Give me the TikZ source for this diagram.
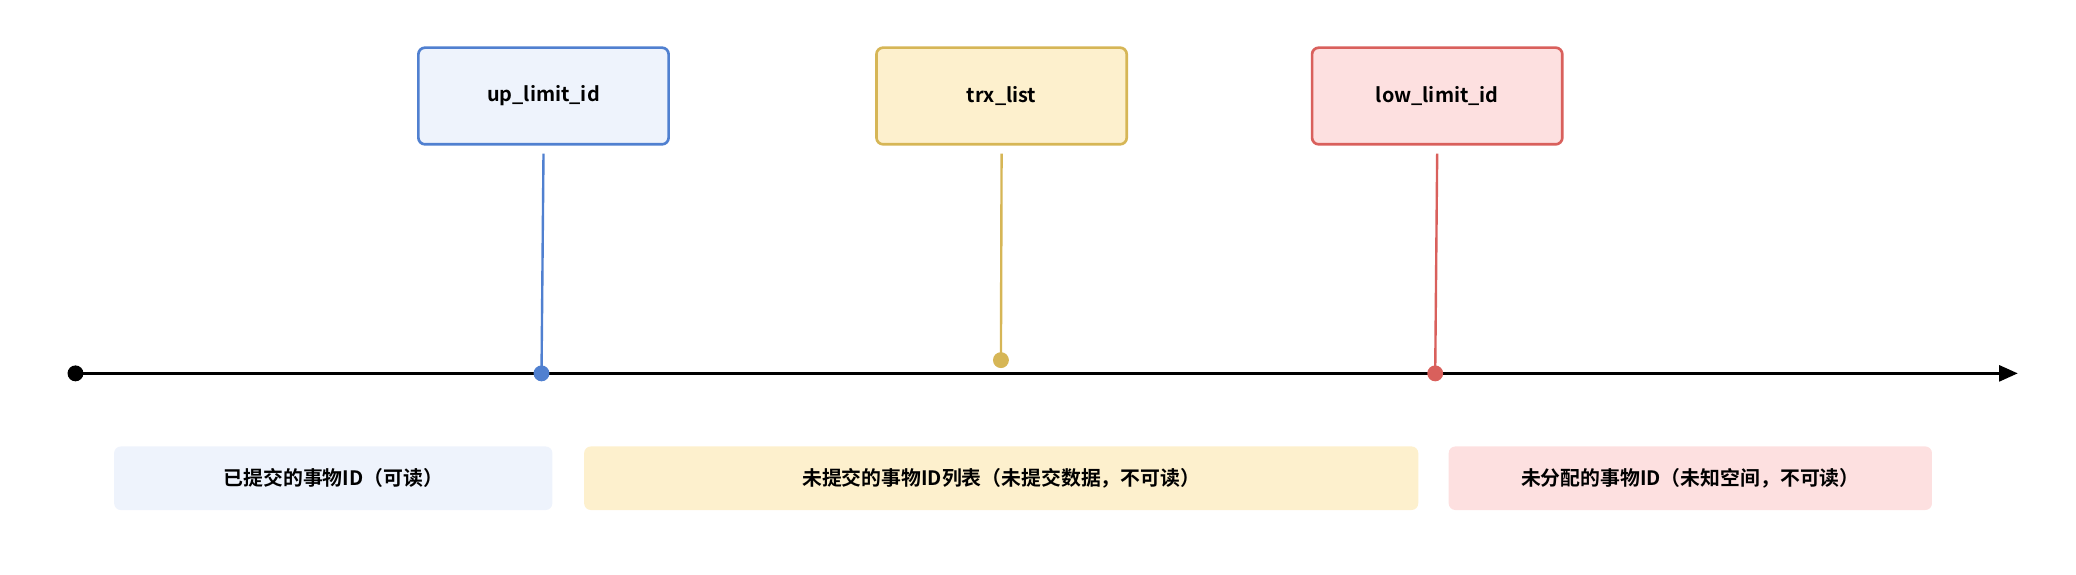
\documentclass[tikz,border=0pt]{standalone}
\usepackage{fontspec}
\setmainfont{Noto Sans CJK SC}[BoldFont={Noto Sans CJK SC Bold}]
\usetikzlibrary{arrows.meta}
\definecolor{upline}{HTML}{5080D0}
\definecolor{upfill}{HTML}{EEF3FC}
\definecolor{trxline}{HTML}{D6B656}
\definecolor{trxfill}{HTML}{FDF0CD}
\definecolor{lowline}{HTML}{D9605C}
\definecolor{lowfill}{HTML}{FDE0E0}
\begin{document}
\begin{tikzpicture}[x=1pt,y=-1pt,
  font=\fontsize{15}{18}\selectfont\bfseries,
  limitbox/.style={draw=#1line, fill=#1fill, line width=2pt, rounded corners=5pt,
    minimum width=189pt, minimum height=73pt, anchor=north west},
  rangebar/.style={fill=#1fill, rounded corners=5pt, minimum height=48pt, anchor=north west},
  marker/.style={line width=1.8pt}]
\useasboundingbox (0,0) rectangle (1568,434);
% limit boxes
\node[limitbox=up]  (up)  at (315,35) {up\_limit\_id};
\node[limitbox=trx] (trx) at (661,35) {trx\_list};
\node[limitbox=low] (low) at (990,35) {low\_limit\_id};
% time axis
\coordinate (start) at (57,282);
\coordinate (end) at (1524,282);
\draw[line width=2pt, -{Triangle[length=14pt,width=12pt]}] (start) -- (end);
\fill (start) circle (6pt);
% markers on the axis
\coordinate (upA) at (409,282);
\coordinate (trxA) at (756,272);
\coordinate (lowA) at (1084,282);
\draw[marker, upline] ([yshift=-6pt]up.south) -- (upA);
\fill[upline] (upA) circle (6pt);
\draw[marker, trxline] ([yshift=-6pt]trx.south) -- (trxA);
\fill[trxline] (trxA) circle (6pt);
\draw[marker, lowline] ([yshift=-6pt]low.south) -- (lowA);
\fill[lowline] (lowA) circle (6pt);
% ranges
\node[rangebar=up,  minimum width=331pt] (r1) at (86,337) {已提交的事物ID（可读）};
\node[rangebar=trx, minimum width=630pt] (r2) at (441,337) {未提交的事物ID列表（未提交数据，不可读）};
\node[rangebar=low, minimum width=365pt] (r3) at (1094,337) {未分配的事物ID（未知空间，不可读）};
\end{tikzpicture}
\end{document}
